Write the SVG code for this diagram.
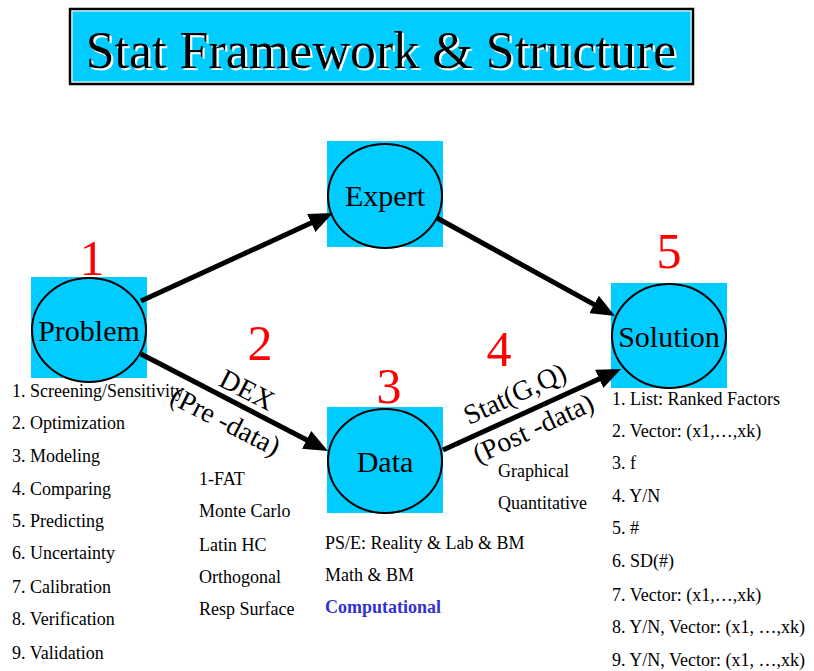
<svg xmlns="http://www.w3.org/2000/svg" width="814" height="671" viewBox="0 0 814 671">
  <style>
    text { font-family: "Liberation Serif", "Times New Roman", "DejaVu Serif", serif; }
    .box { fill: #00CCFF; }
    .oval { fill: #00CCFF; stroke: #000; stroke-width: 2; }
    .nodeLabel { font-size: 30px; fill: #000; text-anchor: middle; }
    .step { font-size: 50px; fill: #FF0000; text-anchor: middle; }
    .item { font-size: 18px; fill: #000; }
    .accent { font-size: 18px; font-weight: bold; fill: #3333CC; }
    .edgeLabel { font-size: 28px; fill: #000; text-anchor: middle; }
    .conn { stroke: #000; stroke-width: 5; fill: none; marker-end: url(#head); }
  </style>
  <defs>
    <marker id="head" markerUnits="userSpaceOnUse" markerWidth="24" markerHeight="20" refX="4" refY="10" orient="auto">
      <path d="M0,0 L24,10 L0,20 Z" fill="#000"/>
    </marker>
    <!-- white drop shadow behind the heading -->
    <filter id="whiteShadow" x="-5%" y="-20%" width="110%" height="140%">
      <feOffset in="SourceAlpha" dx="2" dy="2" result="off"/>
      <feFlood flood-color="#fff"/>
      <feComposite in2="off" operator="in" result="shadow"/>
      <feMerge>
        <feMergeNode in="shadow"/>
        <feMergeNode in="SourceGraphic"/>
      </feMerge>
    </filter>
  </defs>

  <rect width="814" height="671" fill="#fff"/>

  <!-- Title banner -->
  <g id="title">
    <rect x="70" y="9" width="623" height="75" fill="#fff" stroke="#000" stroke-width="2.5"/>
    <rect x="72.5" y="11.5" width="618" height="70" fill="#00CCFF"/>
    <text x="381" y="68" font-size="52" text-anchor="middle" fill="#000" filter="url(#whiteShadow)">Stat Framework &amp; Structure</text>
  </g>

  <!-- Nodes -->
  <g id="problem">
    <rect class="box" x="31" y="277" width="116" height="101"/>
    <ellipse class="oval" cx="89" cy="330" rx="57" ry="52"/>
    <text class="nodeLabel" x="89" y="341">Problem</text>
    <text class="step" x="92" y="275">1</text>
  </g>

  <g id="expert">
    <rect class="box" x="327" y="141" width="116" height="106"/>
    <ellipse class="oval" cx="385" cy="196" rx="57" ry="52"/>
    <text class="nodeLabel" x="385" y="206">Expert</text>
  </g>

  <g id="data">
    <rect class="box" x="327" y="407" width="116" height="106"/>
    <ellipse class="oval" cx="385" cy="461" rx="57" ry="52"/>
    <text class="nodeLabel" x="385" y="472">Data</text>
    <text class="step" x="389" y="403">3</text>
  </g>

  <g id="solution">
    <rect class="box" x="611" y="283" width="116" height="105"/>
    <ellipse class="oval" cx="669" cy="336" rx="57" ry="52"/>
    <text class="nodeLabel" x="669" y="347">Solution</text>
    <text class="step" x="669" y="268">5</text>
  </g>

  <!-- Connectors -->
  <g id="connectors">
    <line class="conn" x1="141" y1="301" x2="314.8" y2="221.3"/>
    <line class="conn" x1="437" y1="218" x2="597.5" y2="306.4"/>
    <line class="conn" x1="141" y1="354" x2="310.2" y2="441.8"/>
    <line class="conn" x1="443" y1="450" x2="602.8" y2="377.3"/>
  </g>

  <!-- Edge labels -->
  <g id="edge-dex">
    <text class="step" x="260" y="360">2</text>
    <g transform="translate(247,390) rotate(27)">
      <text class="edgeLabel" x="0" y="9">DEX</text>
      <text class="edgeLabel" x="-5" y="47">(Pre -data)</text>
    </g>
  </g>

  <g id="edge-stat">
    <text class="step" x="499" y="366">4</text>
    <g transform="translate(515,394) rotate(-25)">
      <text class="edgeLabel" x="0" y="9">Stat(G,Q)</text>
      <text class="edgeLabel" x="2" y="48">(Post -data)</text>
    </g>
    <text class="item" x="498" y="477">Graphical</text>
    <text class="item" x="498" y="509">Quantitative</text>
  </g>

  <!-- Problem types -->
  <g id="problem-list">
    <text class="item" x="12" y="397">1. Screening/Sensitivity</text>
    <text class="item" x="12" y="429">2. Optimization</text>
    <text class="item" x="12" y="462">3. Modeling</text>
    <text class="item" x="12" y="495">4. Comparing</text>
    <text class="item" x="12" y="527">5. Predicting</text>
    <text class="item" x="12" y="559">6. Uncertainty</text>
    <text class="item" x="12" y="593">7. Calibration</text>
    <text class="item" x="12" y="625">8. Verification</text>
    <text class="item" x="12" y="659">9. Validation</text>
  </g>

  <!-- Design methods -->
  <g id="design-list">
    <text class="item" x="199" y="485">1-FAT</text>
    <text class="item" x="199" y="517">Monte Carlo</text>
    <text class="item" x="199" y="551">Latin HC</text>
    <text class="item" x="199" y="583">Orthogonal</text>
    <text class="item" x="199" y="615">Resp Surface</text>
  </g>

  <!-- Data sources -->
  <g id="data-list">
    <text class="item" x="325" y="549">PS/E: Reality &amp; Lab &amp; BM</text>
    <text class="item" x="325" y="581">Math &amp; BM</text>
    <text class="accent" x="325" y="613">Computational</text>
  </g>

  <!-- Solution forms -->
  <g id="solution-list">
    <text class="item" x="612" y="405">1. List: Ranked Factors</text>
    <text class="item" x="612" y="437">2. Vector: (x1,…,xk)</text>
    <text class="item" x="612" y="469">3. f</text>
    <text class="item" x="612" y="502">4. Y/N</text>
    <text class="item" x="612" y="534">5. #</text>
    <text class="item" x="612" y="567">6. SD(#)</text>
    <text class="item" x="612" y="601">7. Vector: (x1,…,xk)</text>
    <text class="item" x="612" y="633">8. Y/N, Vector: (x1, …,xk)</text>
    <text class="item" x="612" y="666">9. Y/N, Vector: (x1, …,xk)</text>
  </g>
</svg>
